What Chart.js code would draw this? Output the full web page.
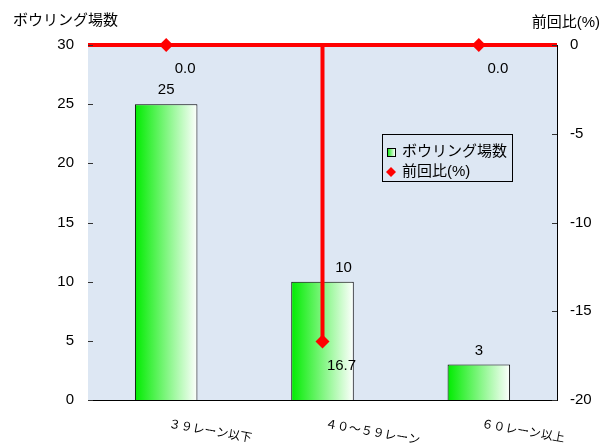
<!DOCTYPE html>
<html>
<head>
<meta charset="utf-8">
<script src="https://cdn.jsdelivr.net/npm/chart.js@4"></script>
<style>
  body { margin: 0; background: #fff; }
  #wrap { width: 604px; height: 448px; }
</style>
</head>
<body>
<div id="wrap"><canvas id="chart" width="604" height="448"></canvas></div>
<script>
// data
const categories = ['３９レーン以下', '４０～５９レーン', '６０レーン以上'];
const bowlingCounts = [25, 10, 3];
const changeRates = [0, -16.7, 0];
const leftTicks = [0, 5, 10, 15, 20, 25, 30];
const rightTicks = [-20, -15, -10, -5, 0];

const FONT = '"Liberation Sans", "Noto Sans CJK JP", sans-serif';
const RED = '#ff0000';

// background + drop line of the rate series
const bgPlugin = {
    id: 'bg',
    beforeDraw(chart) {
        const c = chart.ctx, a = chart.chartArea;
        c.save();
        c.fillStyle = '#ffffff';
        c.fillRect(0, 0, chart.width, chart.height);
        c.fillStyle = '#dde7f3';
        c.fillRect(a.left, a.top, a.right - a.left, a.bottom - a.top);
        c.restore();
    },
    beforeDatasetDraw(chart, args) {
        if (args.index !== 1) return;
        const c = chart.ctx, y1 = chart.scales.y1;
        c.save();
        c.strokeStyle = RED;
        c.lineWidth = 4;
        args.meta.data.forEach((pt, i) => {
            if (changeRates[i] === 0) return;
            c.beginPath();
            c.moveTo(pt.x, y1.getPixelForValue(0));
            c.lineTo(pt.x, pt.y);
            c.stroke();
        });
        c.restore();
    }
};

// labels, axis titles, inner ticks, x labels, legend
const decoPlugin = {
    id: 'deco',
    afterDatasetsDraw(chart) {
        const c = chart.ctx, a = chart.chartArea;
        c.save();
        c.fillStyle = '#000';
        c.font = '15px ' + FONT;

        // bar value labels
        c.textAlign = 'center';
        c.textBaseline = 'alphabetic';
        chart.getDatasetMeta(0).data.forEach((bar, i) => {
            const dx = i === 1 ? 21 : 0;
            c.fillText(String(bowlingCounts[i]), bar.x + dx, bar.y - 10);
        });
        // rate labels
        c.textBaseline = 'middle';
        chart.getDatasetMeta(1).data.forEach((pt, i) => {
            c.fillText(Math.abs(changeRates[i]).toFixed(1), pt.x + 19, pt.y + 24);
        });

        // inner tick marks
        c.strokeStyle = '#333';
        c.lineWidth = 1;
        const ys = chart.scales.y, y1 = chart.scales.y1;
        ys.ticks.forEach(t => {
            const p = Math.round(ys.getPixelForValue(t.value)) + 0.5;
            c.beginPath(); c.moveTo(a.left, p); c.lineTo(a.left + 5, p); c.stroke();
        });
        y1.ticks.forEach(t => {
            const p = Math.round(y1.getPixelForValue(t.value)) + 0.5;
            c.beginPath(); c.moveTo(a.right - 5, p); c.lineTo(a.right, p); c.stroke();
        });

        // axis titles
        c.textBaseline = 'middle';
        c.textAlign = 'left';
        c.fillText('ボウリング場数', 13, 21);
        c.textAlign = 'right';
        c.fillText('前回比(%)', 600, 23);

        // x labels, slanted clockwise
        const xs = chart.scales.x;
        c.font = '12px "Noto Sans CJK JP", sans-serif';
        c.textAlign = 'left';
        c.textBaseline = 'middle';
        categories.forEach((lab, i) => {
            const px = xs.getPixelForValue(i);
            c.save();
            c.translate(px + 3, 423);
            c.rotate(10 * Math.PI / 180);
            c.fillText(lab, 0, 0);
            c.restore();
        });

        // legend
        const lx = 382, ly = 134, lw = 130, lh = 47;
        c.strokeStyle = '#000';
        c.strokeRect(lx + 0.5, ly + 0.5, lw, lh);
        const g = c.createLinearGradient(lx + 5, 0, lx + 13, 0);
        g.addColorStop(0, '#00e600');
        g.addColorStop(1, '#ffffff');
        c.fillStyle = g;
        c.fillRect(lx + 5, ly + 14, 8, 8);
        c.strokeRect(lx + 5.5, ly + 14.5, 8, 8);
        c.fillStyle = RED;
        c.beginPath();
        const dx = lx + 9, dy = ly + 38;
        c.moveTo(dx, dy - 5); c.lineTo(dx + 5, dy); c.lineTo(dx, dy + 5); c.lineTo(dx - 5, dy);
        c.closePath(); c.fill();
        c.fillStyle = '#000';
        c.font = '15px ' + FONT;
        c.textAlign = 'left';
        c.fillText(chart.data.datasets[0].label, lx + 20, ly + 18);
        c.fillText(chart.data.datasets[1].label, lx + 20, ly + 38);
        c.restore();
    }
};

function barGradient(ctx) {
    const chart = ctx.chart;
    const xs = chart.scales.x;
    if (!xs || ctx.dataIndex === undefined) return '#00e600';
    const cx = xs.getPixelForValue(ctx.dataIndex);
    const w = (xs.width / categories.length) * 0.4;
    if (!isFinite(cx) || !isFinite(w)) return '#00e600';
    const g = chart.ctx.createLinearGradient(cx - w / 2, 0, cx + w / 2, 0);
    g.addColorStop(0, '#00ec00');
    g.addColorStop(1, '#ffffff');
    return g;
}

const ctx = document.getElementById('chart').getContext('2d');
new Chart(ctx, {
    type: 'bar',
    data: {
        labels: categories,
        datasets: [
            {
                label: 'ボウリング場数',
                data: bowlingCounts,
                yAxisID: 'y',
                backgroundColor: barGradient,
                borderColor: '#000',
                borderWidth: 1,
                barPercentage: 0.4,
                categoryPercentage: 1,
                order: 2
            },
            {
                type: 'line',
                label: '前回比(%)',
                data: changeRates,
                yAxisID: 'y1',
                showLine: false,
                pointStyle: 'rectRot',
                pointRadius: 7,
                pointBackgroundColor: RED,
                pointBorderColor: RED,
                pointBorderWidth: 0,
                clip: false,
                order: 1
            }
        ]
    },
    options: {
        responsive: false,
        animation: false,
        layout: { padding: { top: 45, left: 0, right: 0, bottom: 0 } },
        scales: {
            x: {
                grid: { display: false },
                border: { color: '#000', width: 1 },
                ticks: { display: false },
                afterFit(s) { s.height = 48; }
            },
            y: {
                position: 'left',
                min: 0, max: 30,
                afterBuildTicks(s) { s.ticks = leftTicks.map(v => ({ value: v })); },
                grid: { display: false, drawTicks: false },
                border: { display: false },
                ticks: { padding: 14, color: '#000', font: { family: FONT, size: 15 } },
                afterFit(s) { s.width = 88; }
            },
            y1: {
                position: 'right',
                min: -20, max: 0,
                afterBuildTicks(s) { s.ticks = rightTicks.map(v => ({ value: v })); },
                grid: {
                    drawTicks: false,
                    color: c => (c.tick && c.tick.value === 0) ? RED : 'rgba(0,0,0,0)',
                    lineWidth: c => (c.tick && c.tick.value === 0) ? 4 : 0
                },
                border: { color: '#000', width: 1 },
                ticks: { padding: 13, color: '#000', font: { family: FONT, size: 15 } },
                afterFit(s) { s.width = 47; }
            }
        },
        plugins: {
            legend: { display: false },
            tooltip: { enabled: false }
        }
    },
    plugins: [bgPlugin, decoPlugin]
});
</script>
</body>
</html>
